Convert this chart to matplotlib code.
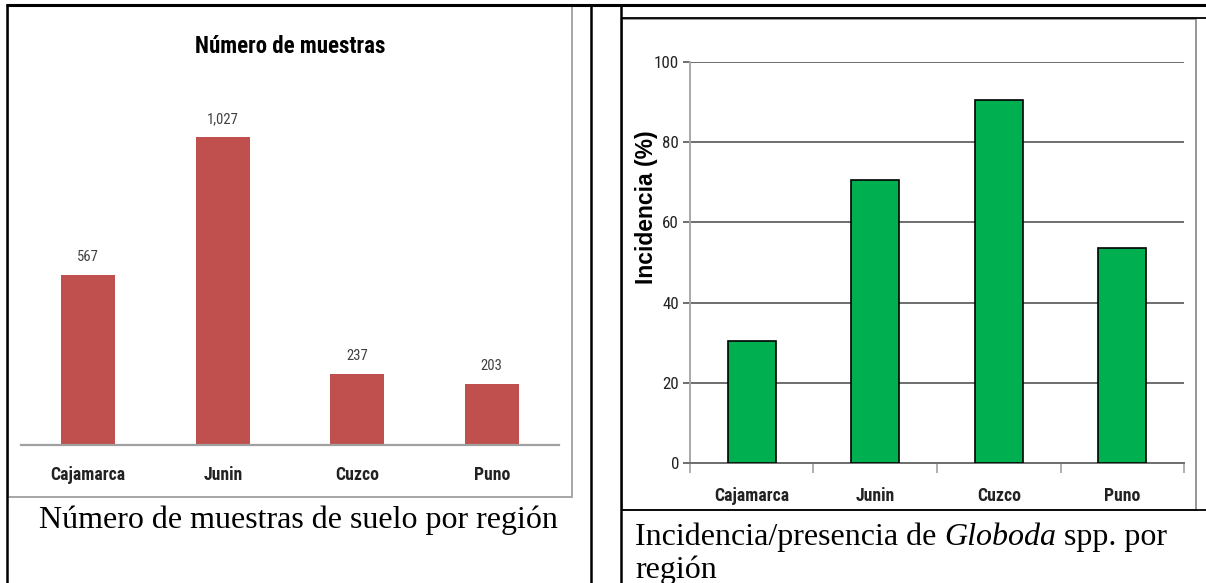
import matplotlib
matplotlib.use("Agg")
import matplotlib.pyplot as plt
from matplotlib.lines import Line2D
from matplotlib.patches import Rectangle
from matplotlib import font_manager
from matplotlib.font_manager import FontProperties

# ---------------- data ----------------
regions = ["Cajamarca", "Junin", "Cuzco", "Puno"]
muestras = [567, 1027, 237, 203]
incidencia = [30.5, 70.5, 90.5, 53.5]
inc_ticks = [0, 20, 40, 60, 80, 100]

title_left = "Número de muestras"
caption_left = "Número de muestras de suelo por región"
ylabel_right = "Incidencia (%)"

W, H = 1206, 583
SERIF = "Liberation Serif"
SANS = "Liberation Sans"

STRETCH = {"ultra-condensed": 100, "extra-condensed": 200, "condensed": 300,
           "semi-condensed": 400, "normal": 500}


def _stretch(f):
    s = f.stretch
    if isinstance(s, str):
        return STRETCH.get(s, 500)
    return s


def narrow_font(bold):
    prefs = ["Liberation Sans Narrow", "Roboto Condensed", "Open Sans Condensed",
             "Noto Sans", "Open Sans", "Roboto", "DejaVu Sans", "Lato", "Inter"]
    best = None
    for f in font_manager.fontManager.ttflist:
        if f.style != "normal":
            continue
        cond = _stretch(f) <= 400 or "Narrow" in f.name or "Condensed" in f.name \
            or "Condensed" in f.fname or "Narrow" in f.fname
        if not cond:
            continue
        w = f.weight if isinstance(f.weight, int) else (700 if "bold" in str(f.weight) else 400)
        wscore = abs(w - (700 if bold else 400))
        try:
            p = prefs.index(f.name)
        except ValueError:
            p = len(prefs)
        key = (wscore, p, abs(_stretch(f) - 300))
        if best is None or key < best[0]:
            best = (key, f.fname)
    if best is None:
        return FontProperties(family=SANS, weight="bold" if bold else "normal")
    return FontProperties(fname=best[1])


def fp(base, size):
    p = base.copy()
    p.set_size(size)
    return p


NB = narrow_font(True)
NR = narrow_font(False)

fig = plt.figure(figsize=(W / 100, H / 100), dpi=100)
fig.patch.set_facecolor("white")


def fx(px):
    return px / W


def fy(py):
    return 1 - py / H


def ax_rect(x0, y0, x1, y1):
    return [fx(x0), fy(y1), fx(x1) - fx(x0), fy(y0) - fy(y1)]


# ---------------- table lines ----------------
def hline(y, x0, x1, lw, color="black"):
    fig.add_artist(Line2D([fx(x0), fx(x1)], [fy(y), fy(y)], lw=lw, color=color,
                          transform=fig.transFigure, solid_capstyle="butt"))


def vline(x, y0, y1, lw, color="black"):
    fig.add_artist(Line2D([fx(x), fx(x)], [fy(y0), fy(y1)], lw=lw, color=color,
                          transform=fig.transFigure, solid_capstyle="butt"))


hline(5, 6, 1206, 2.2)
vline(7, 4, 583, 1.8)
vline(591, 4, 583, 1.8)
vline(621, 4, 583, 1.8)
hline(18, 621, 1206, 1.3)
hline(510, 621, 1206, 1.3)

fig.add_artist(Rectangle((fx(7.5), fy(497)), fx(572) - fx(7.5), fy(5) - fy(497),
                         transform=fig.transFigure, fill=False, ec="#A6A6A6", lw=1.4))
fig.add_artist(Rectangle((fx(622), fy(510)), fx(1196) - fx(622), fy(19) - fy(510),
                         transform=fig.transFigure, fill=False, ec="#8C8C8C", lw=1.3))

# ---------------- left chart ----------------
axL = fig.add_axes(ax_rect(21, 100, 559, 445))
xs = list(range(len(regions)))
axL.bar(xs, muestras, width=0.4, color="#C0504D", edgecolor="none")
axL.set_xlim(-0.5, len(regions) - 0.5)
axL.set_ylim(0, max(muestras) * 345 / 308)
for s in ["top", "right", "left"]:
    axL.spines[s].set_visible(False)
axL.spines["bottom"].set_color("#A0A0A0")
axL.spines["bottom"].set_linewidth(1.6)
axL.set_yticks([])
axL.set_xticks(xs)
axL.set_xticklabels(regions, color="#222222")
for lbl in axL.get_xticklabels():
    lbl.set_fontproperties(fp(NB, 12.8))
axL.tick_params(axis="x", length=0, pad=15)
axL.patch.set_alpha(0)
for i, v in enumerate(muestras):
    axL.annotate(f"{v:,}", (i, v), xytext=(0, 13), textcoords="offset points",
                 ha="center", va="center", fontproperties=fp(NR, 10.5),
                 color="#404040")

fig.text(fx(290), fy(53), title_left, ha="center", va="baseline",
         fontproperties=fp(NB, 16.5), color="black")

fig.text(fx(298), fy(528), caption_left, ha="center", va="baseline",
         fontfamily=SERIF, fontsize=23, color="black")

# ---------------- right chart ----------------
axR = fig.add_axes(ax_rect(690, 62, 1184, 463))
axR.bar(xs, incidencia, width=0.39, color="#00B050", edgecolor="black", lw=1.2,
        zorder=3)
axR.set_xlim(-0.5, len(regions) - 0.5)
axR.set_ylim(0, 100)
axR.set_yticks(inc_ticks)
axR.set_yticklabels([str(t) for t in inc_ticks], color="#222222")
for lbl in axR.get_yticklabels():
    lbl.set_fontproperties(fp(NR, 12.2))
axR.yaxis.grid(True, color="#6E6E6E", lw=1.4, zorder=0)
axR.set_axisbelow(True)
for s in ["top", "right"]:
    axR.spines[s].set_visible(False)
axR.spines["left"].set_color("#A8A8A8")
axR.spines["left"].set_linewidth(1.4)
axR.spines["bottom"].set_color("#6E6E6E")
axR.spines["bottom"].set_linewidth(1.4)
axR.tick_params(axis="y", length=5, width=1.4, color="#6E6E6E", pad=3)
axR.set_xticks(xs)
axR.set_xticklabels(regions, color="#222222")
for lbl in axR.get_xticklabels():
    lbl.set_fontproperties(fp(NB, 12.8))
axR.set_xticks([i - 0.5 for i in range(len(regions) + 1)], minor=True)
axR.tick_params(axis="x", which="major", length=0, pad=17)
axR.tick_params(axis="x", which="minor", length=7, width=1.3, color="#A8A8A8")
axR.patch.set_alpha(0)

fig.text(fx(646), fy(207), ylabel_right, rotation=90, ha="center", va="center",
         fontfamily=SANS, fontweight="bold", fontsize=16.5, color="black")

# caption with italic genus name
renderer = fig.canvas.get_renderer()
xcur = fx(635)
for txt, style in [("Incidencia/presencia de ", "normal"), ("Globoda", "italic"),
                   (" spp. por", "normal")]:
    t = fig.text(xcur, fy(545), txt, ha="left", va="baseline", fontfamily=SERIF,
                 fontstyle=style, fontsize=23, color="black")
    bb = t.get_window_extent(renderer)
    xcur = bb.x1 / fig.bbox.width
fig.text(fx(635), fy(578), "región", ha="left", va="baseline",
         fontfamily=SERIF, fontsize=23, color="black")

fig.savefig("out.png", dpi=100, facecolor="white")
